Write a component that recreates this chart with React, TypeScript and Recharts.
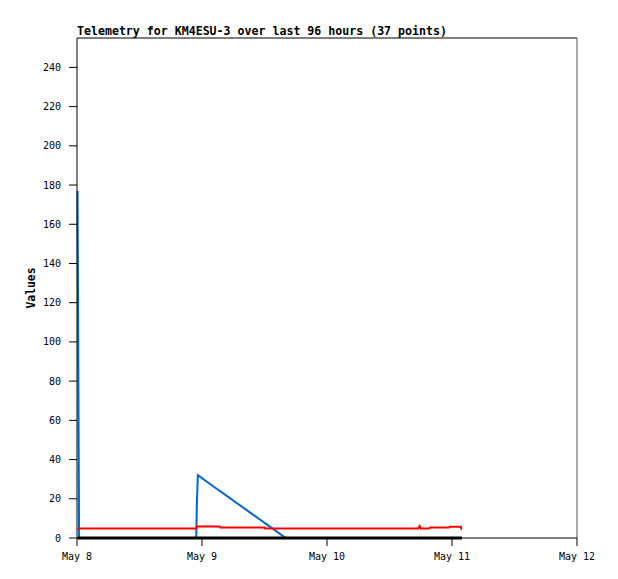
import React from "react";
import { LineChart, Line, XAxis, YAxis, ReferenceLine } from "recharts";

// hours since May 8 00:00
const hours = [
  0.1, 0.4, 4, 8, 12, 16, 20, 22.9, 23.0, 23.2, 27.4, 27.5, 31, 36.0, 36.1, 40.1,
  43, 46, 49, 52, 55, 58, 61, 63.5, 65.5, 65.8, 66.0, 67.6, 67.8, 69.5, 71.4,
  71.6, 72.5, 73.4, 73.7, 73.8, 73.9,
];
const redValues = [
  4.8, 4.8, 4.8, 4.8, 4.8, 4.8, 4.8, 4.8, 5.9, 5.9, 5.9, 5.4, 5.4, 5.4, 4.8, 4.8,
  4.8, 4.8, 4.8, 4.8, 4.8, 4.8, 4.8, 4.8, 4.8, 6.1, 4.8, 4.8, 5.3, 5.3, 5.3,
  5.8, 5.8, 5.8, 5.8, 4.6, 4.6,
];
const blueValues = [
  177, 0, 0, 0, 0, 0, 0, 0, 16, 32, 24, 23.9, 17.2, 7.8, 7.6, 0,
  0, 0, 0, 0, 0, 0, 0, 0, 0, 0, 0, 0, 0, 0, 0,
  0, 0, 0, 0, 0, 0,
];
const blackValues = hours.map(() => 0);

const xTicks = [0, 24, 48, 72, 96];
const xTickLabels = ["May 8", "May 9", "May 10", "May 11", "May 12"];
const yTicks = [0, 20, 40, 60, 80, 100, 120, 140, 160, 180, 200, 220, 240];

const data = hours.map((h, i) => ({
  h,
  red: redValues[i],
  blue: blueValues[i],
  black: blackValues[i],
}));

const mono = "'DejaVu Sans Mono', 'Liberation Mono', monospace";

export default function App() {
  return (
    <div style={{ position: "absolute", left: 0, top: 0, width: 618, height: 579, background: "#fff" }}>
      <div
        style={{
          position: "absolute",
          left: 77,
          top: 24,
          fontFamily: mono,
          fontWeight: "bold",
          fontSize: 11.6,
          color: "#000",
          whiteSpace: "nowrap",
        }}
      >
        Telemetry for KM4ESU-3 over last 96 hours (37 points)
      </div>
      <LineChart
        width={618}
        height={579}
        data={data}
        margin={{ top: 38, right: 41, bottom: 11, left: 0 }}
      >
        <XAxis
          dataKey="h"
          type="number"
          domain={[0, 96]}
          ticks={xTicks}
          tickFormatter={(v) => xTickLabels[xTicks.indexOf(v)]}
          tickSize={8}
          tickMargin={7}
          height={30}
          stroke="#000"
          tick={{ fill: "#000", fontSize: 10, fontFamily: mono }}
          interval={0}
        />
        <YAxis
          type="number"
          domain={[0, 255]}
          ticks={yTicks}
          width={77}
          tickSize={8}
          tickMargin={8}
          stroke="#000"
          tick={{ fill: "#000", fontSize: 10, fontFamily: mono }}
          interval={0}
          label={{
            value: "Values",
            angle: -90,
            position: "insideLeft",
            offset: 31,
            style: { fontFamily: mono, fontWeight: "bold", fontSize: 11.4, fill: "#000", textAnchor: "middle" },
          }}
        />
        <ReferenceLine y={255} stroke="#000" />
        <ReferenceLine x={96} stroke="#555" />
        <Line
          dataKey="blue"
          stroke="#0066cc"
          strokeWidth={2}
          dot={false}
          type="linear"
          isAnimationActive={false}
        />
        <Line
          dataKey="red"
          stroke="#ff0000"
          strokeWidth={2}
          dot={false}
          type="linear"
          isAnimationActive={false}
        />
        <Line
          dataKey="black"
          stroke="#000"
          strokeWidth={3}
          dot={false}
          type="linear"
          isAnimationActive={false}
        />
      </LineChart>
    </div>
  );
}
